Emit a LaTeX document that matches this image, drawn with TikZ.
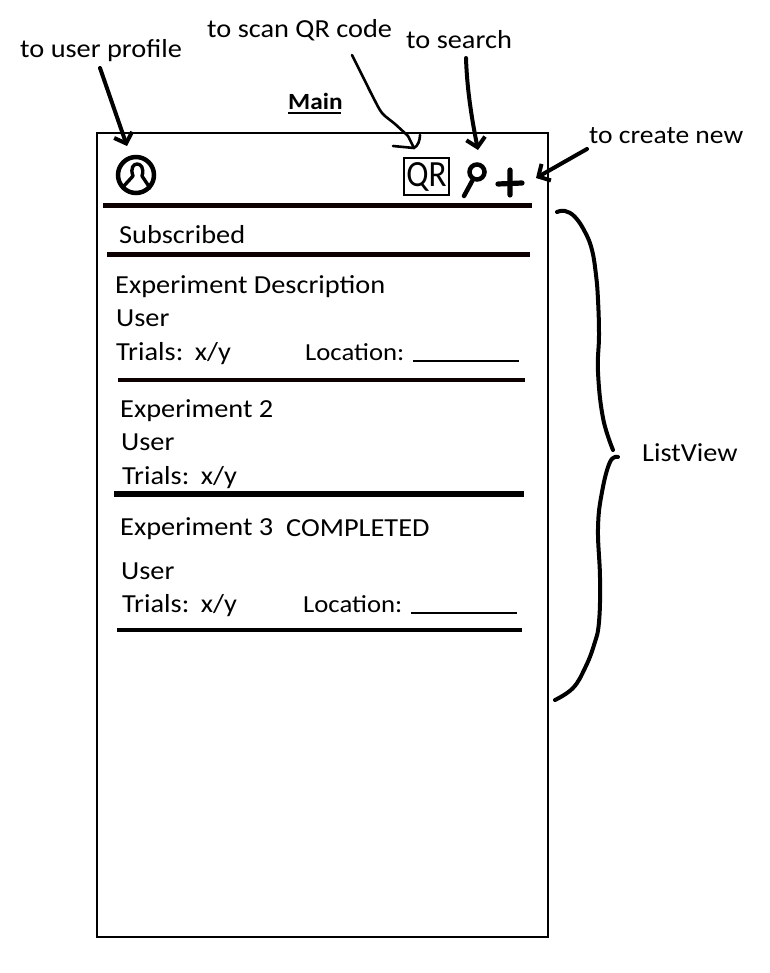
\documentclass[tikz,border=0pt]{standalone}
\usepackage{fontspec}
\setmainfont[FakeStretch=1.09]{Carlito}
\usetikzlibrary{arrows.meta}
\tikzset{
  lbl/.style={inner sep=0pt,anchor=base west,yshift=-1pt,font=\fontsize{26}{29}\selectfont,text=black},
  lblsmall/.style={lbl,font=\fontsize{24.5}{29}\selectfont},
  rule/.style={line width=4.5pt,draw=black!95!red},
  hand/.style={line width=4pt,line cap=round,line join=round,draw=black},
  handthin/.style={line width=2.6pt,line cap=round,line join=round,draw=black},
  barb/.style={-{Straight Barb[length=9pt,width=19pt,line width=4pt]}},
}
\newcommand{\trialstext}{Trials:\hspace{3pt} x/y}
\begin{document}
\begin{tikzpicture}[x=1pt,y=-1pt]
\useasboundingbox (0,0) rectangle (769,973);
\fill[white] (0,0) rectangle (769,973);
\node[rectangle,draw=black,line width=2pt,minimum width=451pt,minimum height=803pt,inner sep=0pt] (frame) at (322,535) {};
% labels
\node[lbl] (lprofile) at (20,57) {to user profile};
\node[lbl] (lqr) at (207,37) {to scan QR code};
\node[lbl] (lsearch) at (406,48) {to search};
\node[lbl,font=\fontsize{25.3}{29}\selectfont] (lnew) at (589,143) {to create new};
\node[lbl] (llist) at (642,460) {ListView};
\node[lbl,font=\fontsize{23.2}{27}\selectfont\bfseries] (lmain) at (288,109) {Main};
\draw[line width=2pt] (288,113.5) -- (341,113.5);
% icons
\node[circle,draw=black,line width=4.5pt,minimum size=36pt,inner sep=0pt] (profile) at (136,175) {};
\draw[line width=3.4pt,line join=round,line cap=round] (123,187) -- (133,176) .. controls (127,160) and (147,160) .. (142,176) -- (150,188);
\node[rectangle,draw=black,line width=2.6pt,minimum width=45pt,minimum height=37pt,inner sep=0pt] (qr) at (426.5,176.5) {\raisebox{-1pt}{\scalebox{0.92}[1.12]{\fontsize{33}{34}\selectfont QR}}};
\node[circle,draw=black,line width=4.5pt,minimum size=15pt,inner sep=0pt] (search) at (477,172) {};
\coordinate (searchend) at (464,196);
\draw[line width=4.5pt,line cap=round] (search) -- (searchend);
\coordinate (plusL) at (498,184); \coordinate (plusR) at (522,183);
\coordinate (plusT) at (510,170); \coordinate (plusB) at (510,195);
\draw[line width=5.2pt,line cap=round] (plusL) -- (plusR) (plusT) -- (plusB);
% header rules
\coordinate (r1a) at (103,205.5); \coordinate (r1b) at (532,205.5);
\draw[rule] (r1a) -- (r1b);
\node[lbl] (sub) at (119,243) {Subscribed};
\coordinate (r2a) at (107,254.5); \coordinate (r2b) at (530,254.5);
\draw[rule] (r2a) -- (r2b);
% item 1
\node[lbl] (e1) at (115,292) {Experiment Description};
\node[lbl] (u1) at (116,325) {User};
\node[lbl] (t1) at (116,359) {\trialstext};
\node[lblsmall] (l1) at (305,359) {Location:};
\coordinate (b1a) at (413,361); \coordinate (b1b) at (519,361);
\draw[line width=1.5pt] (b1a) -- (b1b);
\coordinate (r3a) at (118,380); \coordinate (r3b) at (525,380);
\draw[rule] (r3a) -- (r3b);
% item 2
\node[lbl] (e2) at (120,416) {Experiment 2};
\node[lbl] (u2) at (121,449) {User};
\node[lbl] (t2) at (122,483) {\trialstext};
\coordinate (r4a) at (114,494); \coordinate (r4b) at (524,494);
\draw[line width=6pt] (r4a) -- (r4b);
% item 3
\node[lbl] (e3) at (120,534) {Experiment 3};
\node[lbl] (c3) at (286,535) {COMPLETED};
\node[lbl] (u3) at (121,578) {User};
\node[lbl] (t3) at (122,611) {\trialstext};
\node[lblsmall] (l3) at (303,611) {Location:};
\coordinate (b3a) at (411,613); \coordinate (b3b) at (517,613);
\draw[line width=1.5pt] (b3a) -- (b3b);
\coordinate (r5a) at (117,630); \coordinate (r5b) at (522,630);
\draw[line width=3.6pt] (r5a) -- (r5b);
% arrows
\coordinate (aP0) at (100,68); \coordinate (aP1) at (127,146);
\draw[hand,barb] (aP0) -- (aP1);
\coordinate (aS0) at (466,58); \coordinate (aS1) at (478,150);
\draw[hand,barb] (aS0) .. controls (467,90) and (472,120) .. (aS1);
\coordinate (aN0) at (587,149); \coordinate (aN1) at (536,178);
\draw[hand,barb] (aN0) -- (aN1);
\coordinate (aQ0) at (352,55); \coordinate (aQ1) at (414,148);
\draw[handthin] plot[smooth,tension=0.5] coordinates {(aQ0) (362,75) (373,97) (382,113) (395,124) (408,136)} -- (aQ1);
\draw[handthin] (393,146) -- (aQ1) .. controls (418,146) and (420,140) .. (420,135);
% brace
\draw[hand] plot[smooth,tension=0.7] coordinates {(557,212) (565,211) (575,217) (585,232) (592,250) (596,275) (598,300) (599,335) (598,372) (603,418) (613,450)};
\draw[hand] plot[smooth,tension=0.7] coordinates {(618,457) (610,462) (602,492) (598,528) (600,578) (599,622) (594,645) (585,668) (573,688) (555,700)};
\end{tikzpicture}
\end{document}
